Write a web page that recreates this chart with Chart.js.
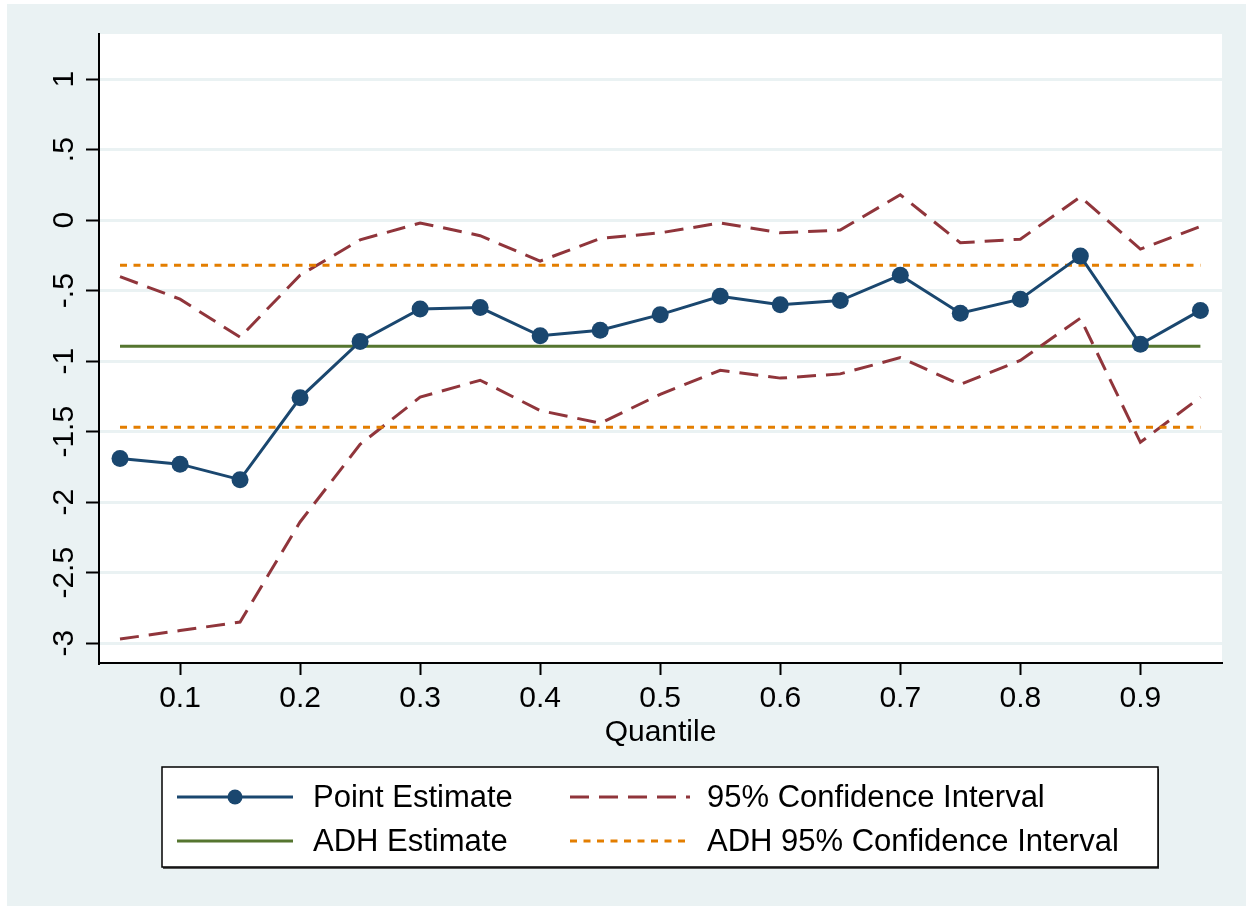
<!DOCTYPE html>
<html>
<head>
<meta charset="utf-8">
<script src="https://cdn.jsdelivr.net/npm/chart.js@4.4.1/dist/chart.umd.min.js"></script>
<style>
  html, body { margin: 0; padding: 0; background: #fff; }
  #wrap { width: 1250px; height: 906px; }
</style>
</head>
<body>
<div id="wrap"><canvas id="qr"></canvas></div>
<script>
const quantiles = [0.05, 0.1, 0.15, 0.2, 0.25, 0.3, 0.35, 0.4, 0.45, 0.5,
                   0.55, 0.6, 0.65, 0.7, 0.75, 0.8, 0.85, 0.9, 0.95];
const pointEst = [-1.69, -1.73, -1.84, -1.26, -0.86, -0.63, -0.62, -0.82, -0.78, -0.67,
                  -0.54, -0.60, -0.57, -0.39, -0.66, -0.56, -0.255, -0.88, -0.64];
const ciUpper = [-0.40, -0.56, -0.83, -0.39, -0.14, -0.02, -0.11, -0.29, -0.13, -0.09,
                 -0.02, -0.09, -0.07, 0.18, -0.16, -0.135, 0.165, -0.205, -0.045];
const ciLower = [-2.97, -2.91, -2.85, -2.14, -1.59, -1.255, -1.135, -1.35, -1.44, -1.235,
                 -1.065, -1.12, -1.09, -0.975, -1.165, -0.995, -0.695, -1.575, -1.255];
const adhEst = -0.894;
const adhLower = -1.468;
const adhUpper = -0.319;

const yTicks = [-3, -2.5, -2, -1.5, -1, -0.5, 0, 0.5, 1];
const yTickLabels = ["-3", "-2.5", "-2", "-1.5", "-1", "-.5", "0", ".5", "1"];
const xTicks = [0.1, 0.2, 0.3, 0.4, 0.5, 0.6, 0.7, 0.8, 0.9];

const NAVY = "#1a476f", MAROON = "#90353b", GREEN = "#55752f", ORANGE = "#e37e00";
const BG = "#eaf2f3";
const FONT = "'Liberation Sans', Arial, Helvetica, sans-serif";

const pts = arr => quantiles.map((q, i) => ({ x: q, y: arr[i] }));
const flat = v => [{ x: quantiles[0], y: v }, { x: quantiles[quantiles.length - 1], y: v }];

const datasets = [
  { label: "Point Estimate", data: pts(pointEst), borderColor: NAVY, backgroundColor: NAVY,
    borderWidth: 3, pointRadius: 8.5, pointHoverRadius: 8.5, pointBorderWidth: 0, order: 0 },
  { label: "95% Confidence Interval", data: pts(ciUpper), borderColor: MAROON,
    borderWidth: 3, borderDash: [19, 10], pointRadius: 0, order: 2 },
  { label: "ADH Estimate", data: flat(adhEst), borderColor: GREEN,
    borderWidth: 3, pointRadius: 0, order: 3 },
  { label: "ADH 95% Confidence Interval", data: flat(adhUpper), borderColor: ORANGE,
    borderWidth: 3, borderDash: [7, 6.5], pointRadius: 0, order: 1 },
  { label: "_ciLower", data: pts(ciLower), borderColor: MAROON,
    borderWidth: 3, borderDash: [19, 10], pointRadius: 0, order: 2 },
  { label: "_adhLower", data: flat(adhLower), borderColor: ORANGE,
    borderWidth: 3, borderDash: [7, 6.5], pointRadius: 0, order: 1 }
];

// stata-ish background: light outer region, white plot region
const backdrop = {
  id: "backdrop",
  beforeDraw(chart) {
    const { ctx, chartArea: a } = chart;
    ctx.save();
    ctx.fillStyle = "#fff";
    ctx.fillRect(0, 0, chart.width, chart.height);
    ctx.fillStyle = BG;
    ctx.fillRect(7, 4, 1239, 902);
    ctx.fillStyle = "#fff";
    ctx.fillRect(a.left, a.top, a.right - a.left, a.bottom - a.top);
    ctx.restore();
  }
};

// vertical y tick labels and the boxed legend
const extras = {
  id: "extras",
  afterDraw(chart) {
    const ctx = chart.ctx;
    const ys = chart.scales.y;
    ctx.save();
    ctx.fillStyle = "#000";
    ctx.font = "30px " + FONT;
    ctx.textAlign = "center";
    ctx.textBaseline = "alphabetic";
    yTicks.forEach((v, i) => {
      ctx.save();
      ctx.translate(73, ys.getPixelForValue(v));
      ctx.rotate(-Math.PI / 2);
      ctx.fillText(yTickLabels[i], 0, 0);
      ctx.restore();
    });

    // legend box
    const bx = 162, by = 767, bw = 996, bh = 100;
    ctx.fillStyle = "#555";
    ctx.fillRect(bx + 1, by + 2, bw, bh);
    ctx.fillStyle = "#fff";
    ctx.fillRect(bx, by, bw, bh);
    ctx.strokeStyle = "#000";
    ctx.lineWidth = 1.5;
    ctx.strokeRect(bx, by, bw, bh);

    const items = [
      { ds: chart.data.datasets[0], x0: 177, x1: 293, tx: 313, y: 797, marker: true },
      { ds: chart.data.datasets[1], x0: 570, x1: 690, tx: 707, y: 797 },
      { ds: chart.data.datasets[2], x0: 177, x1: 293, tx: 313, y: 841 },
      { ds: chart.data.datasets[3], x0: 570, x1: 690, tx: 707, y: 841 }
    ];
    items.forEach(it => {
      ctx.strokeStyle = it.ds.borderColor;
      ctx.lineWidth = it.ds.borderWidth;
      ctx.setLineDash(it.ds.borderDash || []);
      ctx.beginPath();
      ctx.moveTo(it.x0, it.y);
      ctx.lineTo(it.x1, it.y);
      ctx.stroke();
      ctx.setLineDash([]);
      if (it.marker) {
        ctx.fillStyle = it.ds.backgroundColor;
        ctx.beginPath();
        ctx.arc((it.x0 + it.x1) / 2, it.y, 7.5, 0, Math.PI * 2);
        ctx.fill();
      }
      ctx.fillStyle = "#000";
      ctx.font = "31px " + FONT;
      ctx.textAlign = "left";
      ctx.textBaseline = "middle";
      ctx.fillText(it.ds.label, it.tx, it.y + 1);
    });
    ctx.restore();
  }
};

new Chart(document.getElementById("qr"), {
  type: "line",
  data: { datasets },
  options: {
    responsive: true,
    maintainAspectRatio: false,
    animation: false,
    events: [],
    layout: { padding: { left: 0, top: 34, right: 28, bottom: 143 } },
    plugins: { legend: { display: false }, tooltip: { enabled: false } },
    elements: { line: { tension: 0 } },
    scales: {
      x: {
        type: "linear",
        min: 0.0325,
        max: 0.968,
        afterBuildTicks: s => { s.ticks = xTicks.map(v => ({ value: v })); },
        afterFit: s => { s.height = 100; },
        ticks: {
          color: "#000",
          font: { family: FONT, size: 30 },
          padding: 6,
          maxRotation: 0,
          callback: v => v.toFixed(1)
        },
        grid: { drawOnChartArea: false, drawTicks: true, tickLength: 12, tickColor: "#000", tickWidth: 2 },
        border: { display: true, color: "#000", width: 2 },
        title: { display: true, text: "Quantile", color: "#000",
                 font: { family: FONT, size: 30 }, padding: { top: 0, bottom: 12 } }
      },
      y: {
        type: "linear",
        min: -3.14,
        max: 1.32,
        afterBuildTicks: s => { s.ticks = yTicks.map(v => ({ value: v })); },
        afterFit: s => { s.width = 99; },
        ticks: { display: false },
        grid: { color: BG, lineWidth: 3, drawTicks: true, tickLength: 13, tickColor: "#000", tickWidth: 2 },
        border: { display: true, color: "#000", width: 2 }
      }
    }
  },
  plugins: [backdrop, extras]
});
</script>
</body>
</html>
